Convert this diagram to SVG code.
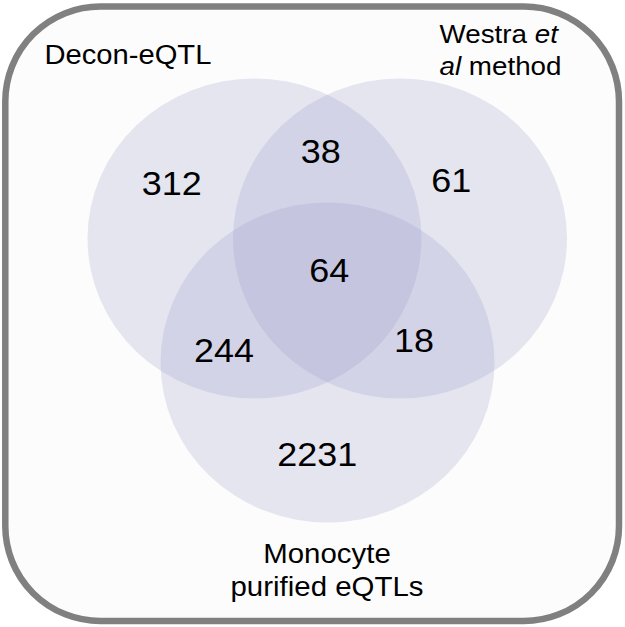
<svg xmlns="http://www.w3.org/2000/svg" width="625" height="627" viewBox="0 0 625 627">
<style>
.frame{fill:#fcfcfc;stroke:#808080;stroke-width:6.5}
.set{fill:rgb(150,150,200);fill-opacity:0.22}
.lab{font-family:"Liberation Sans",Arial,sans-serif;font-size:27px;fill:#000}
.num{font-family:"Liberation Sans",Arial,sans-serif;font-size:33px;fill:#000}
</style>
<rect class="frame" x="5.3" y="6.5" width="613.7" height="614.5" rx="95" ry="95"/>
<g id="sets">
<ellipse id="set-decon" class="set" cx="254.5" cy="238.5" rx="167" ry="160"/>
<ellipse id="set-westra" class="set" cx="400" cy="238.5" rx="167" ry="160"/>
<ellipse id="set-monocyte" class="set" cx="327.5" cy="362.5" rx="167" ry="160"/>
</g>
<g id="labels">
<g id="label-decon" transform="translate(44.5,64.3) scale(1.08,1)"><text class="lab" x="0" y="0">Decon-eQTL</text></g>
<g id="label-westra" style="font-size:25.5px">
<g transform="translate(439.5,43) scale(1.09,1)"><text class="lab" style="font-size:25.5px" x="0" y="0">Westra <tspan font-style="italic">et</tspan></text></g>
<g transform="translate(439.5,75) scale(1.09,1)"><text class="lab" style="font-size:25.5px" x="0" y="0"><tspan font-style="italic">al</tspan> method</text></g>
</g>
<g id="label-monocyte">
<g transform="translate(327,562.5) scale(1.09,1)"><text class="lab" x="0" y="0" text-anchor="middle">Monocyte</text></g>
<g transform="translate(327,596) scale(1.09,1)"><text class="lab" x="0" y="0" text-anchor="middle">purified eQTLs</text></g>
</g>
</g>
<g id="counts">
<g id="n-decon-only" transform="translate(141.8,195) scale(1.09,1)"><text class="num">312</text></g>
<g id="n-decon-westra" transform="translate(300.8,162.5) scale(1.09,1)"><text class="num">38</text></g>
<g id="n-westra-only" transform="translate(431.3,191.5) scale(1.09,1)"><text class="num">61</text></g>
<g id="n-all" transform="translate(309.3,282.3) scale(1.09,1)"><text class="num">64</text></g>
<g id="n-decon-mono" transform="translate(193.9,361.7) scale(1.09,1)"><text class="num">244</text></g>
<g id="n-westra-mono" transform="translate(394,352.3) scale(1.09,1)"><text class="num">18</text></g>
<g id="n-mono-only" transform="translate(277.2,465.5) scale(1.09,1)"><text class="num">2231</text></g>
</g>
</svg>
